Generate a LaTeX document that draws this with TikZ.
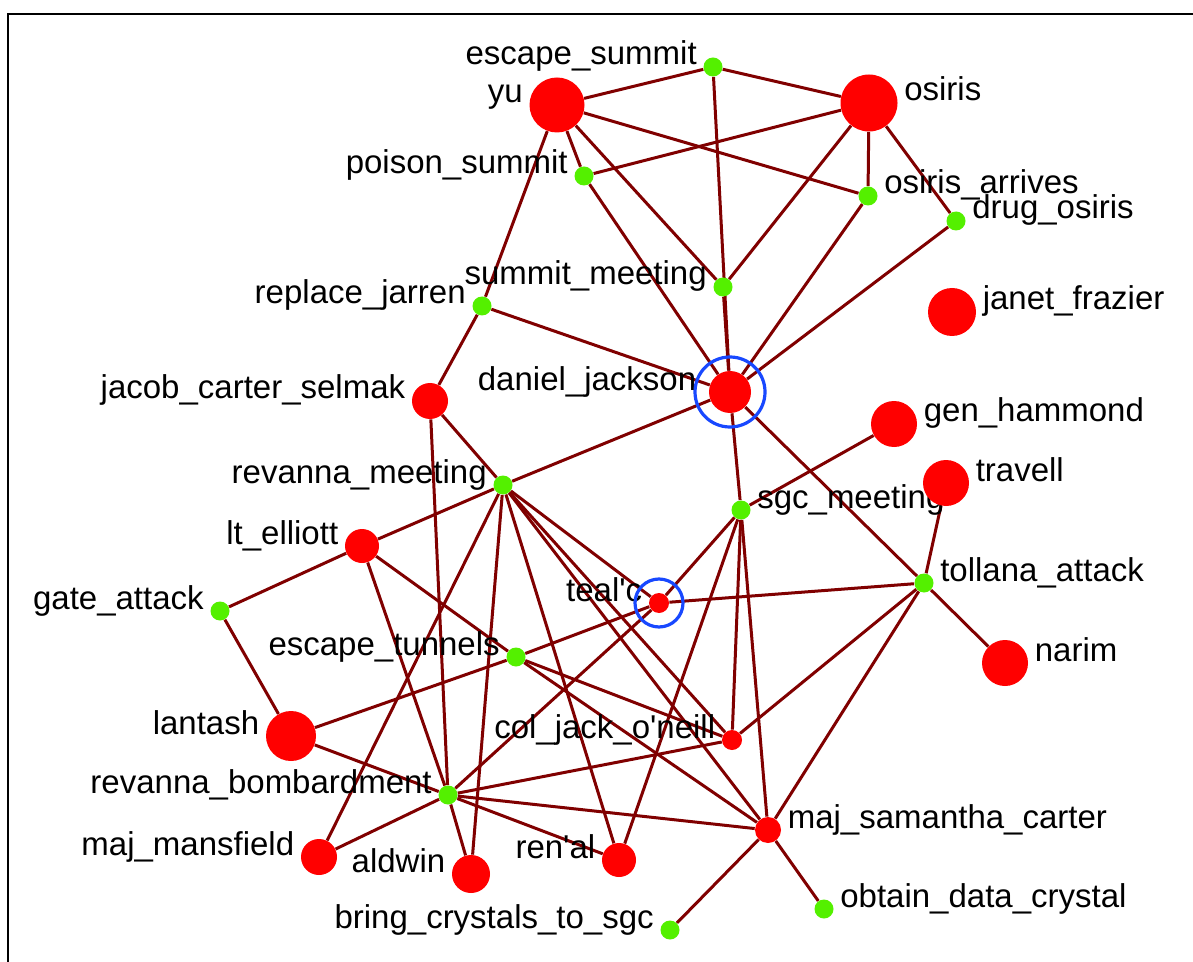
\documentclass[tikz,border=0pt]{standalone}
\usepackage{fontspec}
\setmainfont{Liberation Sans}
\usetikzlibrary{backgrounds}
\definecolor{agentred}{RGB}{255,0,0}
\definecolor{eventgreen}{RGB}{84,240,0}
\definecolor{tiered}{RGB}{128,0,0}
\definecolor{ringblue}{RGB}{24,72,255}
\begin{document}
\begin{tikzpicture}[x=0.5pt, y=-0.5pt,
		agent/.style={circle, fill=agentred, inner sep=0pt, minimum size=#1},
		event/.style={circle, fill=eventgreen, inner sep=0pt, minimum size=9.5pt},
		tie/.style={draw=tiered, line width=1.5pt},
		ring/.style={circle, draw=ringblue, line width=1.6pt, inner sep=0pt, minimum size=#1},
		lbl/.style={font=\fontsize{16.5}{18}\selectfont, inner sep=0pt, yshift=1pt},
		lw/.style={label={[lbl, anchor=base east]west:#1}},
		le/.style={label={[lbl, anchor=base west]east:#1}},
		label distance=3pt]
			\useasboundingbox (0,0) rectangle (1193,962);
			\draw[line width=1pt] (8,962) -- (8,14) -- (1193,14);
			% events
			\node[event, lw=escape\_summit] (es) at (713,67) {};
			\node[event, lw=poison\_summit] (ps) at (584,176) {};
			\node[event, le=osiris\_arrives] (oa) at (868,196) {};
			\node[event, le=drug\_osiris] (do) at (956,221) {};
			\node[event, lw=summit\_meeting] (sm) at (723,287) {};
			\node[event, lw=replace\_jarren] (rj) at (482,306) {};
			\node[event, lw=revanna\_meeting] (rm) at (503,485) {};
			\node[event, le=sgc\_meeting] (sg) at (741,510) {};
			\node[event, lw=gate\_attack] (ga) at (220,611) {};
			\node[event, le=tollana\_attack] (ta) at (924,583) {};
			\node[event, lw=escape\_tunnels] (et) at (516,657) {};
			\node[event, lw=revanna\_bombardment] (rb) at (448,795) {};
			\node[event, le=obtain\_data\_crystal] (odc) at (824,909) {};
			\node[event, lw=bring\_crystals\_to\_sgc] (bcs) at (670,930) {};
			% agents
			\node[agent=27.5pt, lw=yu] (yu) at (557,105) {};
			\node[agent=28.5pt, le=osiris] (os) at (869,103) {};
			\node[agent=24pt, le=janet\_frazier] (jf) at (952,312) {};
			\node[agent=18pt, lw=jacob\_carter\_selmak] (jcs) at (430,401) {};
			\node[agent=21pt, label={[lbl, anchor=base east, label distance=6pt]west:daniel\_jackson}] (dj) at (730,392) {};
			\node[agent=23pt, le=gen\_hammond] (gh) at (894,424) {};
			\node[agent=23pt, le=travell] (tr) at (946,483) {};
			\node[agent=17pt, lw=lt\_elliott] (ell) at (362,546) {};
			\node[agent=10pt, lw=teal\textquotesingle c] (tc) at (659,603) {};
			\node[agent=23pt, le=narim] (nar) at (1005,663) {};
			\node[agent=25pt, lw=lantash] (lan) at (291,736) {};
			\node[agent=10pt, lw=col\_jack\_o\textquotesingle neill] (cj) at (732,740) {};
			\node[agent=13pt, le=maj\_samantha\_carter] (msc) at (768,830) {};
			\node[agent=18pt, lw=maj\_mansfield] (mm) at (319,857) {};
			\node[agent=19pt, lw=aldwin] (ald) at (471,874) {};
			\node[agent=17pt, lw=ren\textquotesingle al] (ren) at (619,860) {};
			\node[ring=35pt] (djring) at (dj) {};
			\node[ring=24pt] (tcring) at (tc) {};
			\begin{pgfonlayer}{background}
				\foreach \a/\b in {yu/es, yu/ps, yu/sm, yu/oa, yu/rj,
					os/es, os/ps, os/sm, os/oa, os/do,
					dj/rj, dj/ps, dj/es, dj/sm, dj/oa, dj/do, dj/rm, dj/sg, dj/ta,
					jcs/rj, jcs/rm, jcs/rb,
					ell/rm, ell/ga, ell/et, ell/rb,
					tc/rm, tc/sg, tc/ta, tc/et, tc/rb,
					lan/ga, lan/et, lan/rb,
					gh/sg, tr/ta, nar/ta,
					cj/rm, cj/et, cj/rb, cj/sg, cj/ta,
					msc/rm, msc/et, msc/rb, msc/sg, msc/ta, msc/bcs, msc/odc,
					mm/rm, mm/rb, ald/rm, ald/rb, ren/rm, ren/rb, ren/sg}{
					\draw[tie] (\a) -- (\b);
				}
			\end{pgfonlayer}
\end{tikzpicture}
\end{document}
